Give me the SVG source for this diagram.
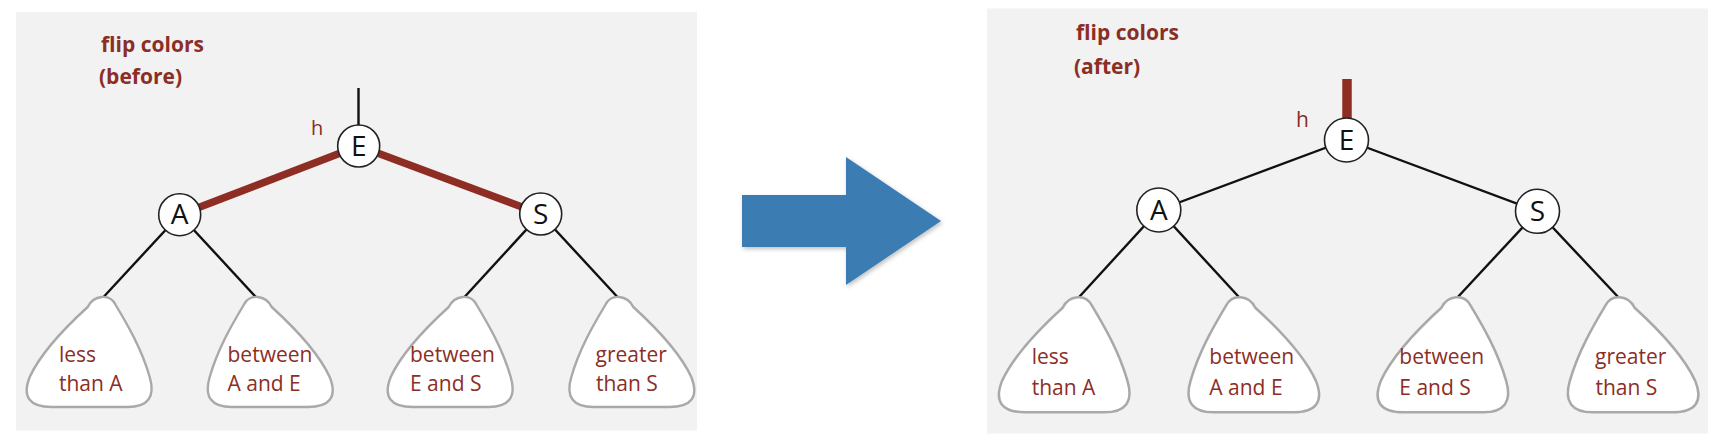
<svg xmlns="http://www.w3.org/2000/svg" xmlns:xlink="http://www.w3.org/1999/xlink" width="1728" height="444" viewBox="0 0 1728 444">
<style>
.panel{fill:#f2f2f2}
.lbl{font-family:"Open Sans","Liberation Sans",sans-serif;fill:#8b2e26}
.title{font-weight:bold;font-size:21px}
.leaftxt{font-size:21px}
.node circle{fill:#fff;stroke:#222;stroke-width:1.6}
.node text{font-family:"Open Sans","Liberation Sans",sans-serif;font-size:28px;fill:#111;text-anchor:middle}
.blk{stroke:#111;stroke-width:2.4;fill:none}
.red{stroke:#8e2d23;stroke-width:7.5;fill:none}
.leaf{fill:#fff;stroke:#a9a9a9;stroke-width:2.4}
</style>
<defs>
<path id="leafShape" d="M -14,10 C -8,-2 8,-4 14,8 C 26,28 40,52 48,80 C 54,100 46,110 26,110 L -50,110 C -72,110 -80,100 -72,80 C -60,54 -36,30 -14,10 Z"/>
<filter id="shadow" x="-10%" y="-10%" width="130%" height="130%">
<feDropShadow dx="1.5" dy="2" stdDeviation="2" flood-color="#000" flood-opacity="0.25"/>
</filter>
</defs>
<rect width="1728" height="444" fill="#fff"/>

<!-- LEFT PANEL -->
<rect class="panel" x="16" y="12" width="681" height="418.5"/>
<text class="lbl title" x="101" y="52">flip colors</text>
<text class="lbl title" x="99" y="84">(before)</text>
<text class="lbl" x="311" y="135" font-size="20">h</text>

<g id="connectors-left">
<line class="blk" x1="358.5" y1="88" x2="358.5" y2="127"/>
<line class="red" x1="358.7" y1="146" x2="179.7" y2="214.7"/>
<line class="red" x1="358.7" y1="146" x2="540.7" y2="214"/>
<line class="blk" x1="179.7" y1="214.7" x2="101.7" y2="299"/>
<line class="blk" x1="179.7" y1="214.7" x2="257.7" y2="299"/>
<line class="blk" x1="540.7" y1="214" x2="462.7" y2="299"/>
<line class="blk" x1="540.7" y1="214" x2="619.3" y2="299"/>
</g>

<g id="L-leaf1"><use xlink:href="#leafShape" class="leaf" transform="translate(101.7,297)"/>
<text class="lbl leaftxt" x="59" y="361.7">less</text><text class="lbl leaftxt" x="59" y="390.7">than A</text></g>
<g id="L-leaf2"><use xlink:href="#leafShape" class="leaf" transform="translate(257.7,297) scale(-1,1)"/>
<text class="lbl leaftxt" x="227.5" y="361.7">between</text><text class="lbl leaftxt" x="227.5" y="390.7">A and E</text></g>
<g id="L-leaf3"><use xlink:href="#leafShape" class="leaf" transform="translate(462.7,297)"/>
<text class="lbl leaftxt" x="410" y="361.7">between</text><text class="lbl leaftxt" x="410" y="390.7">E and S</text></g>
<g id="L-leaf4"><use xlink:href="#leafShape" class="leaf" transform="translate(619.3,297) scale(-1,1)"/>
<text class="lbl leaftxt" x="595.5" y="361.7">greater</text><text class="lbl leaftxt" x="596" y="390.7">than S</text></g>

<g id="L-nodeE" class="node"><circle cx="358.7" cy="146" r="21"/><text x="358.7" y="155.5">E</text></g>
<g id="L-nodeA" class="node"><circle cx="179.7" cy="214.7" r="21"/><text x="179.7" y="224.2">A</text></g>
<g id="L-nodeS" class="node"><circle cx="540.7" cy="214" r="21"/><text x="540.7" y="223.5">S</text></g>

<!-- ARROW -->
<polygon id="arrow" points="742,195 846,195 846,157 941,221 846,285 846,247 742,247" fill="#3a7db3" filter="url(#shadow)"/>

<!-- RIGHT PANEL -->
<rect class="panel" x="987" y="8.5" width="721" height="425"/>
<text class="lbl title" x="1076" y="40" font-size="22px">flip colors</text>
<text class="lbl title" x="1074" y="73.5" font-size="22px">(after)</text>
<text class="lbl" x="1296" y="127.3" font-size="21">h</text>

<g id="connectors-right">
<line x1="1347" y1="79" x2="1347" y2="122" stroke="#8e2d23" stroke-width="9.5"/>
<line class="blk" x1="1346.5" y1="140" x2="1158.8" y2="210"/>
<line class="blk" x1="1346.5" y1="140" x2="1537.5" y2="211.3"/>
<line class="blk" x1="1158.8" y1="210" x2="1077.3" y2="299"/>
<line class="blk" x1="1158.8" y1="210" x2="1240.7" y2="299"/>
<line class="blk" x1="1537.5" y1="211.3" x2="1456" y2="299"/>
<line class="blk" x1="1537.5" y1="211.3" x2="1620" y2="299"/>
</g>

<g id="R-leaf1"><use xlink:href="#leafShape" class="leaf" transform="translate(1077.3,297.3) scale(1.045)"/>
<text class="lbl leaftxt" x="1031.7" y="364" font-size="22px">less</text><text class="lbl leaftxt" x="1031.7" y="395" font-size="22px">than A</text></g>
<g id="R-leaf2"><use xlink:href="#leafShape" class="leaf" transform="translate(1240.7,297.3) scale(-1.045,1.045)"/>
<text class="lbl leaftxt" x="1209.3" y="364" font-size="22px">between</text><text class="lbl leaftxt" x="1209.3" y="395" font-size="22px">A and E</text></g>
<g id="R-leaf3"><use xlink:href="#leafShape" class="leaf" transform="translate(1456,297.3) scale(1.045)"/>
<text class="lbl leaftxt" x="1399.3" y="364" font-size="22px">between</text><text class="lbl leaftxt" x="1399.3" y="395" font-size="22px">E and S</text></g>
<g id="R-leaf4"><use xlink:href="#leafShape" class="leaf" transform="translate(1620,297.3) scale(-1.045,1.045)"/>
<text class="lbl leaftxt" x="1595" y="364" font-size="22px">greater</text><text class="lbl leaftxt" x="1595.5" y="395" font-size="22px">than S</text></g>

<g id="R-nodeE" class="node"><circle cx="1346.5" cy="140" r="22"/><text x="1346.5" y="150" font-size="29px">E</text></g>
<g id="R-nodeA" class="node"><circle cx="1158.8" cy="210" r="22"/><text x="1158.8" y="220" font-size="29px">A</text></g>
<g id="R-nodeS" class="node"><circle cx="1537.5" cy="211.3" r="22"/><text x="1537.5" y="221.3" font-size="29px">S</text></g>
</svg>
